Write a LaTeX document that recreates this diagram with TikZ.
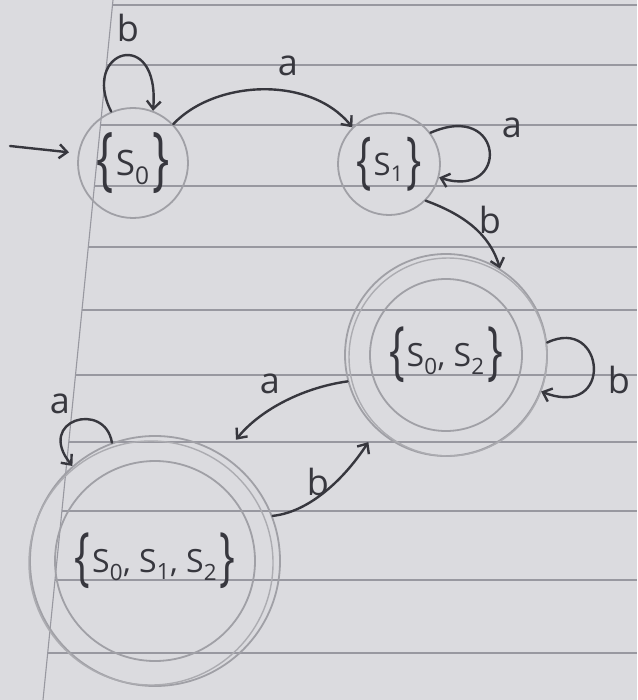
\documentclass[tikz,border=0pt]{standalone}
\usepackage{graphicx}
\usepackage{fontspec}
\setsansfont{Open Sans}
\usetikzlibrary{arrows.meta}
\definecolor{paper}{RGB}{219,219,223}
\definecolor{rulegray}{RGB}{152,152,160}
\definecolor{pencil}{RGB}{160,160,166}
\definecolor{ink}{RGB}{55,55,62}
\tikzset{
 state/.style={circle, draw=pencil, line width=1.8pt, inner sep=0pt, text=ink},
 edge/.style={draw=ink, line width=2.4pt, line cap=round, -{Straight Barb[length=8pt,width=14pt]}},
 lbl/.style={text=ink, font=\fontsize{36}{38}\selectfont\sffamily, inner sep=0pt},
 ruled/.style={draw=rulegray, line width=1.1pt},
}
\newcommand\stfont[1]{\fontsize{#1}{#1}\selectfont\sffamily}
\newcommand\bigbr[1]{\raisebox{-0.2em}{\scalebox{1.3}[2.0]{#1}}}
\newcommand\setof[1]{\bigbr{\{}\hspace{0.06em}#1\hspace{0.08em}\bigbr{\}}}
\newcommand\sub[1]{\textsubscript{#1}}
\begin{document}
\begin{tikzpicture}[x=1pt,y=-1pt]
\fill[paper] (0,0) rectangle (637,700);
\useasboundingbox (0,0) rectangle (637,700);
\foreach \yy in {5,65,125,186,247,310,375,442,511,580,653} {
  \draw[ruled] ({113-0.1*\yy},\yy) -- (637,\yy);
}
\draw[ruled] (113,0) -- (43,700);

% states
\node[state, minimum size=110pt, font=\stfont{35}] (s0) at (133,163) {\setof{S\sub{0}}};
\node[state, minimum size=102pt, font=\stfont{31}] (s1) at (389,164) {\setof{S\sub{1}}};
\node[state, minimum size=202pt, font=\stfont{32}] (s2) at (446,355) {\setof{S\sub{0}, S\sub{2}}};
\draw[pencil, line width=1.8pt] (s2.center) circle[radius=76];
\draw[pencil!80!paper, line width=1.4pt] ([shift={(2,2)}]s2.center) circle[radius=99];
\node[state, minimum size=250pt, font=\stfont{32}] (s3) at (155,561) {\setof{S\sub{0}, S\sub{1}, S\sub{2}}};
\draw[pencil, line width=1.8pt] (s3.center) circle[radius=100];
\draw[pencil!80!paper, line width=1.4pt] ([shift={(-4,2)}]s3.center) circle[radius=122];

% start arrow
\coordinate (start) at (10,146);
\draw[edge, shorten >=9pt] (start) -- (s0.170);

% s0 loop b
\draw[edge] (s0.113) .. controls (80,50) and (160,25) .. (s0.69);
\node[lbl] (lb0) at (128,28) {b};

% s0 -> s1 a
\draw[edge] (s0.44) .. controls (215,80) and (310,75) .. (s1.135);
\node[lbl] (la01) at (288,66) {a};

% s1 loop a
\draw[edge] (s1.37) .. controls (505,100) and (510,200) .. (s1.-15);
\node[lbl] (la1) at (512,128) {a};

% s1 -> s2 b
\draw[edge] (s1.-45) .. controls (465,215) and (490,235) .. (s2.58);
\node[lbl] (lb12) at (490,220) {b};

% s2 loop b
\draw[edge] (s2.7) .. controls (605,315) and (615,420) .. (s2.-21);
\node[lbl] (lb2) at (619,380) {b};

% s2 -> s3 a
\draw[edge, shorten >=20pt] (s2.195) .. controls (300,388) and (258,412) .. (s3.57);
\node[lbl] (la23) at (270,384) {a};

% s3 -> s2 b
\draw[edge, shorten >=15pt] (s3.21) .. controls (310,512) and (345,478) .. (s2.227);
\node[lbl] (lb32) at (318,482) {b};

% s3 loop a
\draw[edge] (s3.110) .. controls (105,400) and (35,420) .. (s3.131);
\node[lbl] (la3) at (60,404) {a};
\end{tikzpicture}
\end{document}
